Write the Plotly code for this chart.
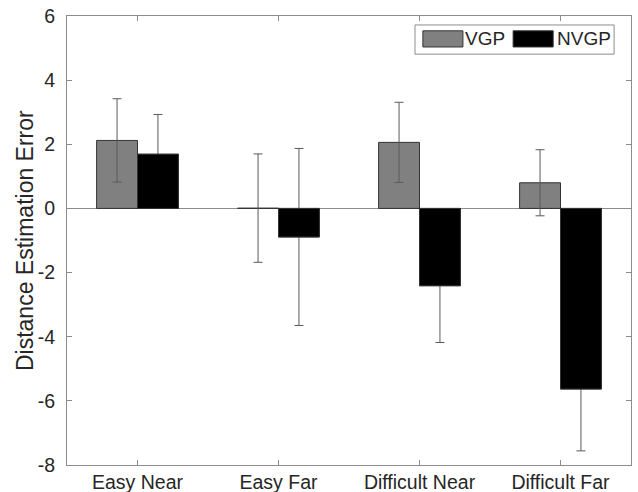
import plotly.graph_objects as go

categories = ["Easy Near", "Easy Far", "Difficult Near", "Difficult Far"]
series_names = ["VGP", "NVGP"]
vgp_means = [2.12, 0.01, 2.06, 0.80]
vgp_errors = [1.30, 1.69, 1.25, 1.03]
nvgp_means = [1.69, -0.89, -2.41, -5.63]
nvgp_errors = [1.24, 2.76, 1.77, 1.93]
y_ticks = [-8, -6, -4, -2, 0, 2, 4, 6]
y_ticklabels = [str(v) for v in y_ticks]
y_title = "Distance Estimation Error"

colors = ["#808080", "#000000"]
FONT = "Liberation Sans, Arial, Helvetica, sans-serif"
TXT = "#262626"
AX = "#8c8c8c"
EDGE = "#333333"

fig = go.Figure()
for i, (name, means, errs, col) in enumerate([(series_names[0], vgp_means, vgp_errors, colors[0]),
                                              (series_names[1], nvgp_means, nvgp_errors, colors[1])]):
    fig.add_trace(go.Bar(
        x=categories, y=means, name=name, offsetgroup=str(i),
        marker=dict(color=col, line=dict(color=EDGE, width=1)),
        error_y=dict(type="data", array=errs, visible=True,
                     color="#5a5a5a", thickness=1, width=4.5),
        showlegend=False,
    ))
# black bars re-drawn on top so the whisker part inside them is hidden (as black-on-black in the original)
fig.add_trace(go.Bar(
    x=categories, y=nvgp_means, name=series_names[1], offsetgroup="1",
    marker=dict(color=colors[1], line=dict(color=EDGE, width=1)),
    showlegend=False, hoverinfo="skip",
))

# MATLAB-like legend (paper coordinates)
fig.add_shape(type="rect", xref="paper", yref="paper", x0=0.617, x1=0.970, y0=0.915, y1=0.980,
              line=dict(color=AX, width=1), fillcolor="white", layer="above")
sw = [(0.631, 0.702, 0.708), (0.791, 0.862, 0.870)]
for (x0, x1, tx), name, col in zip(sw, series_names, colors):
    fig.add_shape(type="rect", xref="paper", yref="paper", x0=x0, x1=x1, y0=0.931, y1=0.967,
                  line=dict(color=EDGE, width=1), fillcolor=col, layer="above")
    fig.add_annotation(xref="paper", yref="paper", x=tx, y=0.949, text=name, showarrow=False,
                       xanchor="left", yanchor="middle", xshift=-3,
                       font=dict(family=FONT, size=19, color=TXT))

# y-axis title as rotated annotation (placed like the original)
fig.add_annotation(xref="paper", yref="paper", x=-0.0753, y=0.5, text=y_title, textangle=-90,
                   showarrow=False, xanchor="center", yanchor="middle",
                   font=dict(family=FONT, size=23, color=TXT))

fig.update_layout(
    width=638, height=492,
    margin=dict(l=67, r=7, t=16, b=27),
    paper_bgcolor="white", plot_bgcolor="white",
    barmode="group", bargap=0.42, bargroupgap=0,
    font=dict(family=FONT, size=19, color=TXT),
    xaxis=dict(range=[-0.5, 3.5], showline=True, linecolor=AX, linewidth=1, mirror="ticks",
               ticks="inside", ticklen=5, tickcolor=AX, showgrid=False, automargin=False,
               tickfont=dict(family=FONT, size=19.5, color=TXT)),
    yaxis=dict(range=[-8, 6], tickvals=y_ticks, ticktext=y_ticklabels, showline=True,
               linecolor=AX, linewidth=1,
               mirror="ticks", ticks="inside", ticklen=5, tickcolor=AX, showgrid=False,
               zeroline=True, zerolinecolor=AX, zerolinewidth=1, ticklabelstandoff=7,
               automargin=False,
               tickfont=dict(family=FONT, size=19.5, color=TXT)),
)

fig.write_html("out.html", config={"displayModeBar": False},
               post_script="document.body.style.margin='0';document.body.style.overflow='hidden';")
